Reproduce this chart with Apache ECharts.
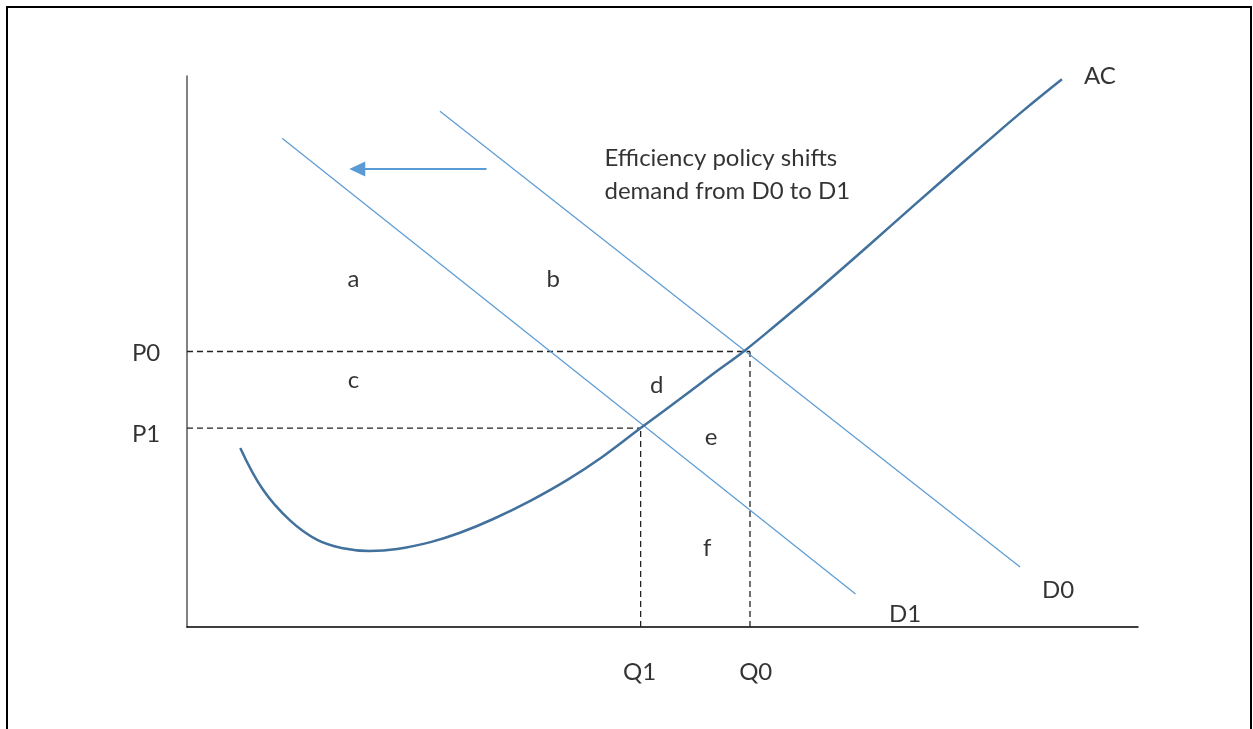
<!DOCTYPE html>
<html><head><meta charset="utf-8">
<script src="https://cdn.jsdelivr.net/npm/echarts@6/dist/echarts.min.js"></script>
<style>html,body{margin:0;padding:0;background:#fff}#c{width:1253px;height:729px}</style>
</head><body><div id="c"></div>
<script>
// Market levels (axis units 0-100)
const Q0 = 59.2, Q1 = 47.7, P0 = 50, P1 = 36.1;
// Average cost curve points [quantity, price]
const acCurve = [[5.6,32.5],[8.0,24.9],[10.8,19.4],[13.7,15.8],[16.4,14.3],[19.2,13.8],[22.1,14.15],[25.6,15.4],[28.7,17.1],[32.2,19.6],[36.1,22.9],[40.0,26.7],[43.7,30.9],[47.7,36.1],[52.0,41.6],[55.3,45.9],[58.6,50.1],[62.0,54.9],[66.0,60.7],[70.0,66.7],[74.0,72.8],[79.0,80.4],[84.0,87.9],[88.0,93.8],[92.0,99.4]];
// Demand lines (end points)
const demandD0 = [[26.6,93.6],[87.6,10.9]];
const demandD1 = [[10.0,88.7],[70.3,6.0]];
// Shift arrow (from, to)
const shiftArrow = [[31.5,83.1],[17.9,83.1]];
// Area and curve labels [x, y, text]
const areaLabels = [[17.5,63.2,'a'],[38.5,63.2,'b'],[17.5,44.8,'c'],[49.4,43.9,'d'],[55.1,34.5,'e'],[54.7,14.2,'f']];
const curveLabels = [[96.0,100.0,'AC'],[75.5,2.4,'D1'],[91.6,6.7,'D0']];
const axisTickLabels = [[-4.3,49.7,'P0'],[-4.3,35.0,'P1'],[47.6,-8.3,'Q1'],[59.8,-8.3,'Q0']];
const noteLines = [[43.9,85.1,'Efficiency policy shifts'],[43.9,79.1,'demand from D0 to D1']];

const FONT = 'Lato';
const FS = 24;
const chart = echarts.init(document.getElementById('c'), null, {renderer:'canvas'});
function dashed(pts){
  return {type:'line', data:pts, symbol:'none', silent:true, z:3,
    lineStyle:{color:'#222', width:1.3, type:[6,4]}};
}
function labelSeries(arr, align){
  return {type:'scatter', clip:false, symbolSize:0, silent:true, z:10,
    data: arr.map(d=>({value:[d[0],d[1]], name:d[2]})),
    label:{show:true, position:'inside', formatter:'{b}', color:'#000',
      fontFamily:FONT, fontSize:FS, align:align||'center', verticalAlign:'middle'}};
}
chart.setOption({
  animation:false,
  backgroundColor:'#fff',
  graphic:[{type:'rect', shape:{x:7,y:7,width:1244,height:760}, style:{fill:'none', stroke:'#000', lineWidth:2}, silent:true}],
  grid:{left:187, right:115, top:76, bottom:102, containLabel:false},
  xAxis:{type:'value', min:0, max:100, axisLine:{show:true, lineStyle:{color:'#000', width:1.5}},
    axisTick:{show:false}, axisLabel:{show:false}, splitLine:{show:false}},
  yAxis:{type:'value', min:0, max:100, axisLine:{show:true, lineStyle:{color:'#595959', width:1.5}},
    axisTick:{show:false}, axisLabel:{show:false}, splitLine:{show:false}},
  series:[
    dashed([[0,P0],[Q0,P0]]),
    dashed([[0,P1],[Q1,P1]]),
    dashed([[Q1,0],[Q1,P1]]),
    dashed([[Q0,0],[Q0,P0]]),
    {type:'line', data:demandD0, symbol:'none', silent:true, z:4, lineStyle:{color:'#5B9BD5', width:1.2}},
    {type:'line', data:demandD1, symbol:'none', silent:true, z:4, lineStyle:{color:'#5B9BD5', width:1.2}},
    {type:'line', data:acCurve, symbol:'none', smooth:0.4, silent:true, z:5, lineStyle:{color:'#41719C', width:2.5}},
    {type:'line', data:[], silent:true,
      markLine:{silent:true, symbol:['none','triangle'], symbolSize:[15,16], label:{show:false},
        lineStyle:{color:'#5B9BD5', width:2.2, type:'solid'},
        data:[[{coord:shiftArrow[0]},{coord:shiftArrow[1]}]]}},
    labelSeries(areaLabels),
    labelSeries(curveLabels),
    labelSeries(axisTickLabels),
    labelSeries(noteLines,'left')
  ]
});
</script></body></html>
